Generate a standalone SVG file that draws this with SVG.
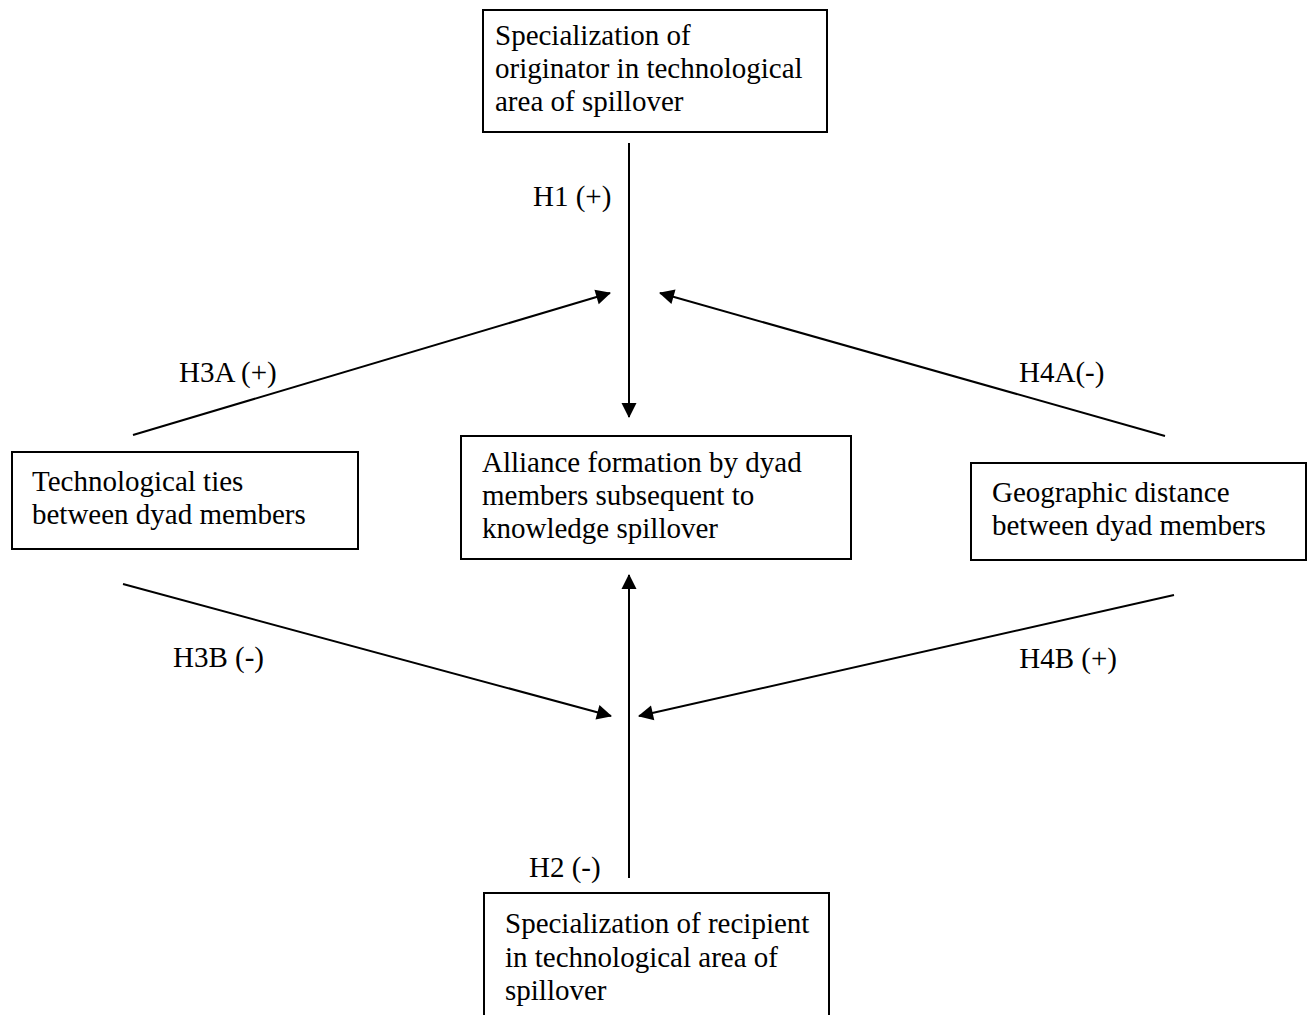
<svg xmlns="http://www.w3.org/2000/svg" width="1307" height="1015" viewBox="0 0 1307 1015">
<defs>
<style>
.box{fill:#fff;stroke:#000;stroke-width:2}
.t{font-family:"Liberation Serif","Times New Roman",serif;font-size:29px;fill:#000}
.c{stroke:#000;stroke-width:2;fill:none;marker-end:url(#ah)}
</style>
<marker id="ah" markerUnits="userSpaceOnUse" markerWidth="16" markerHeight="16" viewBox="0 0 15 16" refX="14" refY="8" orient="auto">
<path d="M0,0.5 L15,8 L0,15.5 z" fill="#000"/>
</marker>
</defs>
<rect width="1307" height="1015" fill="#fff"/>
<g id="connectors">
<line class="c" x1="629" y1="143" x2="629" y2="417"/>
<line class="c" x1="629" y1="878" x2="629" y2="575"/>
<line class="c" x1="133" y1="435" x2="610" y2="293"/>
<line class="c" x1="1165" y1="436" x2="660" y2="293"/>
<line class="c" x1="123" y1="584" x2="611" y2="716"/>
<line class="c" x1="1174" y1="595" x2="639" y2="716"/>
</g>
<g id="labels">
<text class="t" x="533" y="206">H1 (+)</text>
<text class="t" x="179" y="382">H3A (+)</text>
<text class="t" x="1019" y="382">H4A(-)</text>
<text class="t" x="173" y="667">H3B (-)</text>
<text class="t" x="1117" y="668" text-anchor="end">H4B (+)</text>
<text class="t" x="529" y="877">H2 (-)</text>
</g>
<g id="node-originator">
<rect class="box" x="483" y="10" width="344" height="122"/>
<text class="t" x="495" y="45">Specialization of</text>
<text class="t" x="495" y="78">originator in technological</text>
<text class="t" x="495" y="111">area of spillover</text>
</g>
<g id="node-ties">
<rect class="box" x="12" y="452" width="346" height="97"/>
<text class="t" x="32" y="491">Technological ties</text>
<text class="t" x="32" y="524">between dyad members</text>
</g>
<g id="node-alliance">
<rect class="box" x="461" y="436" width="390" height="123"/>
<text class="t" x="482" y="472">Alliance formation by dyad</text>
<text class="t" x="482" y="505">members subsequent to</text>
<text class="t" x="482" y="538">knowledge spillover</text>
</g>
<g id="node-distance">
<rect class="box" x="971" y="463" width="335" height="97"/>
<text class="t" x="992" y="502">Geographic distance</text>
<text class="t" x="992" y="535">between dyad members</text>
</g>
<g id="node-recipient">
<rect class="box" x="484" y="893" width="345" height="135"/>
<text class="t" x="505" y="933">Specialization of recipient</text>
<text class="t" x="505" y="967">in technological area of</text>
<text class="t" x="505" y="1000">spillover</text>
</g>
</svg>
